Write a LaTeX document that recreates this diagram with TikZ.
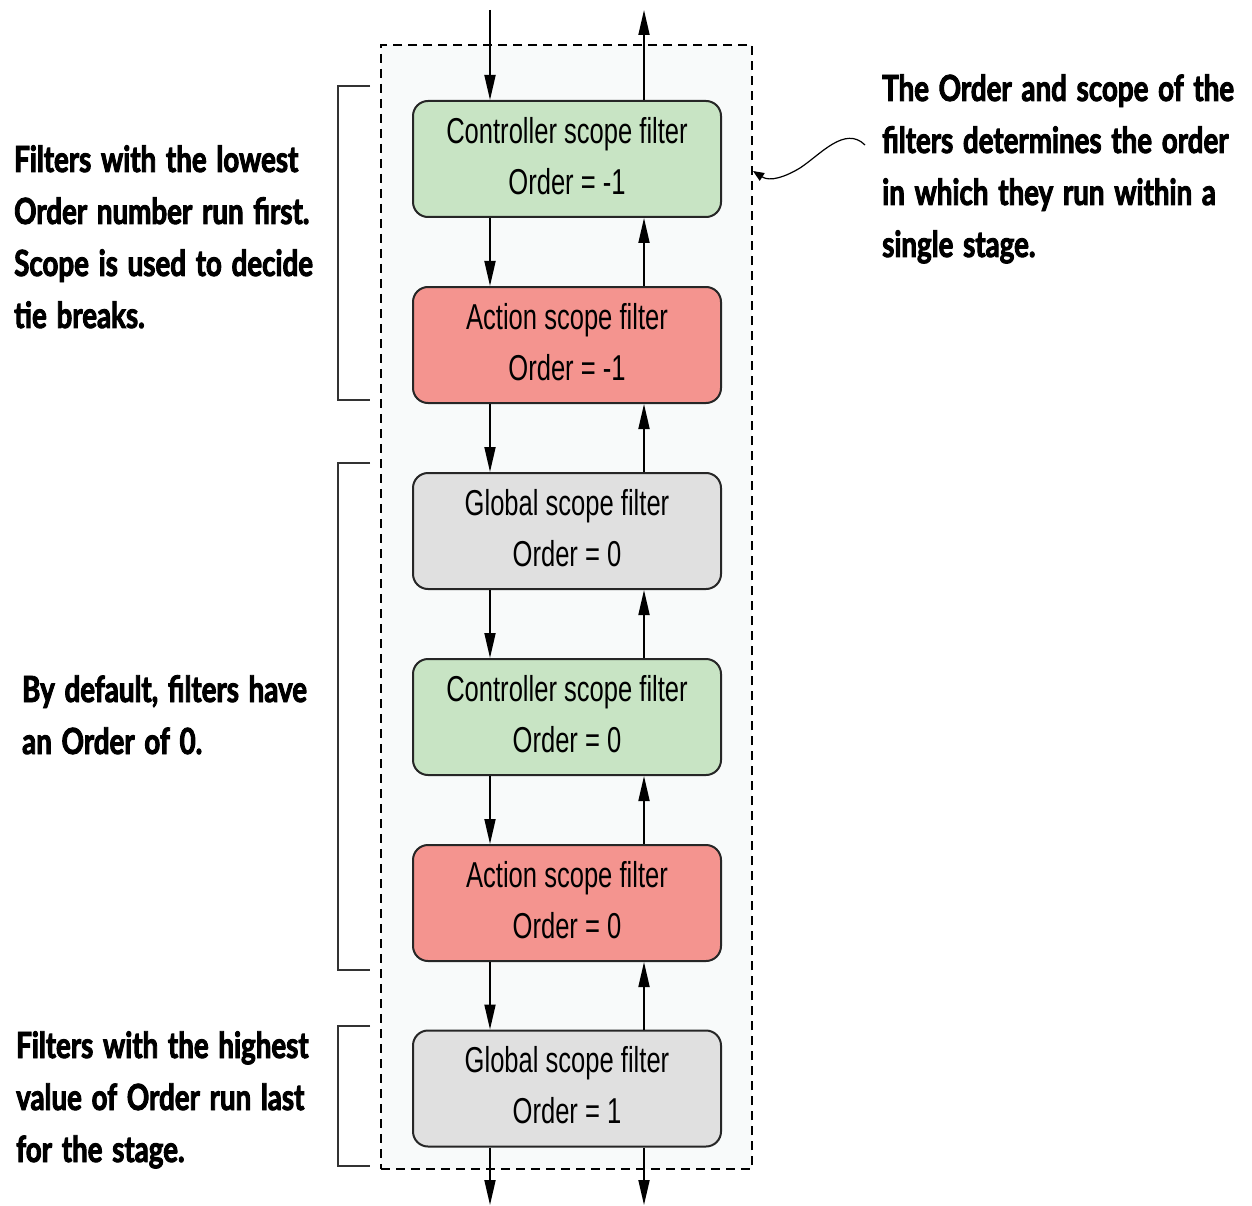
\documentclass[tikz,border=0pt]{standalone}
\usepackage{fontspec}
\setmainfont{Liberation Sans}
\newfontfamily\boxfont{Liberation Sans}[FakeStretch=0.71]
\IfFontExistsTF{Lato Bold}
  {\newfontfamily\notefont{Lato Bold}[FakeStretch=0.77,FakeBold=2.5]}
  {\newfontfamily\notefont{Lato}[FakeStretch=0.77,FakeBold=4]}
\newcommand\notesetup{\notefont\fontsize{36}{52}\selectfont\spaceskip=0.27em plus 0.03em minus 0.03em\relax}
\usetikzlibrary{arrows.meta}
\definecolor{ctrlgreen}{HTML}{C8E4C4}
\definecolor{actred}{HTML}{F4948F}
\definecolor{globgray}{HTML}{E0E0E0}
\definecolor{stagefill}{HTML}{F8FAFA}
\begin{document}
\begin{tikzpicture}[x=1pt,y=-1pt,
 filterbox/.style={draw=black!85, line width=2pt, rounded corners=15pt, minimum width=308pt, minimum height=116pt, align=center, inner sep=0pt, text depth=7pt, font=\boxfont\fontsize{36}{51}\selectfont},
 flow/.style={line width=1.8pt, -{Triangle[length=25pt,width=11pt]}},
 note/.style={anchor=base west, inner sep=0pt, align=flush left, text width=420pt, font=\notesetup},
 bracket/.style={line width=2pt, draw=black!80},
 stagebox/.style={draw, dash pattern=on 9pt off 6pt, line width=2pt, fill=stagefill, minimum width=371pt, minimum height=1124pt, inner sep=0pt},
]
\useasboundingbox (0,0) rectangle (1252,1206);
\node[stagebox] (stage) at (566.5,607) {};

\node[filterbox, fill=ctrlgreen] (f1) at (567,159) {Controller scope filter\\Order = -1};
\node[filterbox, fill=actred]    (f2) at (567,345) {Action scope filter\\Order = -1};
\node[filterbox, fill=globgray]  (f3) at (567,531) {Global scope filter\\Order = 0};
\node[filterbox, fill=ctrlgreen] (f4) at (567,717) {Controller scope filter\\Order = 0};
\node[filterbox, fill=actred]    (f5) at (567,903) {Action scope filter\\Order = 0};
\node[filterbox, fill=globgray]  (f6) at (567,1088.5) {Global scope filter\\Order = 1};

\coordinate (inTop) at (490,10);
\coordinate (outTop) at (644,10);
\coordinate (inBot) at (490,1205);
\coordinate (outBot) at (644,1205);

\draw[flow] (inTop) -- (inTop |- f1.north);
\draw[flow] (outTop |- f1.north) -- (outTop);
\foreach \a/\b in {f1/f2,f2/f3,f3/f4,f4/f5,f5/f6}{
  \draw[flow] (inTop |- \a.south) -- (inTop |- \b.north);
  \draw[flow] (outTop |- \b.north) -- (outTop |- \a.south);
}
\draw[flow] (inTop |- f6.south) -- (inBot);
\draw[flow] (outTop |- f6.south) -- (outBot);

\draw[bracket] (370,86) -- (338,86) -- (338,400) -- (370,400);
\draw[bracket] (370,463) -- (338,463) -- (338,970) -- (370,970);
\draw[bracket] (370,1026) -- (338,1026) -- (338,1166) -- (370,1166);

\node[note] (lowest) at (14,172) {Filters with the lowest\\Order number run first.\\Scope is used to decide\\tie breaks.};
\node[note] (default) at (22,702) {By default, filters have\\an Order of 0.};
\node[note] (highest) at (16,1058) {Filters with the highest\\value of Order run last\\for the stage.};
\node[note] (scope) at (882,101) {The Order and scope of the\\filters determines the order\\in which they run within a\\single stage.};

\coordinate (cs) at (865,145);
\coordinate (ce) at (753,171);
\draw[line width=1.2pt, -{Triangle[length=11pt,width=9pt]}] (cs) .. controls (845,125) and (820,155) .. (800,168) .. controls (785,177) and (770,182) .. (ce);
\end{tikzpicture}
\end{document}
